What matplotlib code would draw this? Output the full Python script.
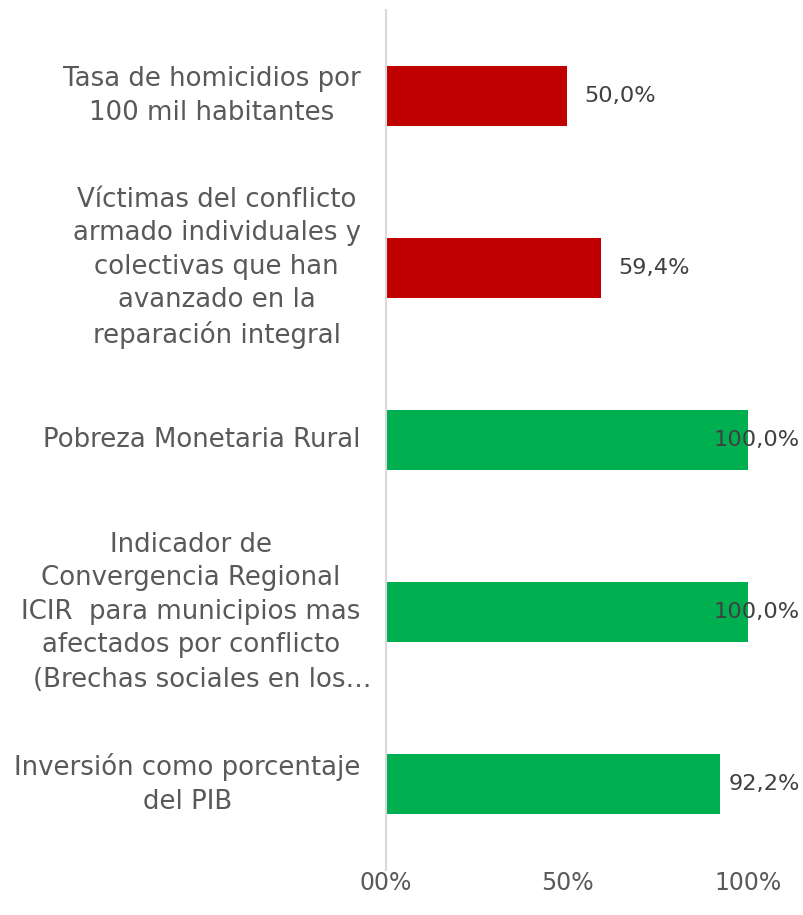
import matplotlib.pyplot as plt
import numpy as np

categories = [
    "Tasa de homicidios por\n100 mil habitantes",
    "Víctimas del conflicto\narmado individuales y\ncolectivas que han\navanzado en la\nreparación integral",
    "Pobreza Monetaria Rural",
    "Indicador de\nConvergencia Regional\nICIR  para municipios mas\nafectados por conflicto\n (Brechas sociales en los…",
    "Inversión como porcentaje\ndel PIB",
]
values = [0.500, 0.594, 1.000, 1.000, 0.922]
value_labels = ["50,0%", "59,4%", "100,0%", "100,0%", "92,2%"]
colors = ["#c00000", "#c00000", "#00b050", "#00b050", "#00b050"]
tick_values = [0.0, 0.5, 1.0]
tick_labels = ["00%", "50%", "100%"]

plt.rcParams["font.family"] = ["DejaVu Sans"]
text_color = "#595959"

fig = plt.figure(figsize=(8.04, 9.15), dpi=100)
ax = fig.add_axes([386 / 804, 45 / 915, 362 / 804, 860 / 915])

y = np.arange(len(categories))
ax.barh(y, values, height=0.35, color=colors)
ax.set_xlim(0, 1)
ax.set_ylim(len(categories) - 0.5, -0.5)

# labels that would run off the right edge get pushed back inside
for yi, v, lab in zip(y, values, value_labels):
    if v + 0.05 + 0.22 > 1.14:
        ax.text(1.144, yi, lab, ha="right", va="center", fontsize=16.2,
                color="#404040", clip_on=False)
    else:
        ax.text(v + 0.047, yi, lab, ha="left", va="center", fontsize=16.2,
                color="#404040", clip_on=False)

line_pitch = 34 / 172  # one text line in category units
label_kw = dict(ha="right", multialignment="center", fontsize=18.7,
                color=text_color, linespacing=1.36,
                transform=ax.get_yaxis_transform())
for yi, cat in zip(y, categories):
    lines = cat.split("\n")
    if lines[-1].startswith(" "):
        # truncated last line hangs a bit past the right edge, like excel does
        head = "\n".join(lines[:-1])
        ax.text(-0.07, yi - line_pitch / 2, head, va="center", **label_kw)
        ax.text(-0.04, yi + 2 * line_pitch, lines[-1].strip(), va="center",
                **label_kw)
    else:
        ax.text(-0.07, yi, cat, va="center", **label_kw)

ax.set_yticks([])
ax.set_xticks(tick_values)
ax.set_xticklabels(tick_labels, fontsize=17, color=text_color)
ax.tick_params(axis="x", length=0, pad=1)

for side in ["top", "right", "bottom"]:
    ax.spines[side].set_visible(False)
ax.spines["left"].set_color("#d9d9d9")
ax.spines["left"].set_linewidth(1.5)

fig.savefig("out.png", dpi=100)
